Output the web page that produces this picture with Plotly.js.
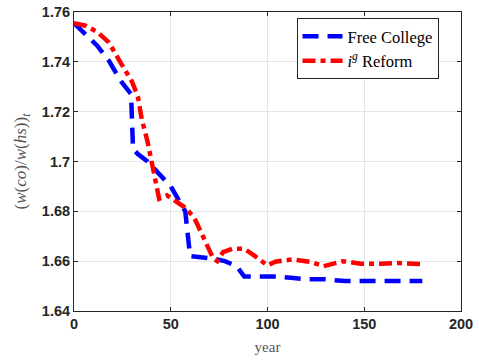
<!DOCTYPE html>
<html>
<head>
<meta charset="utf-8">
<script src="https://cdn.plot.ly/plotly-3.0.1.min.js"></script>
<style>html,body{margin:0;padding:0;background:#fff;}#chart{width:479px;height:362px;}</style>
</head>
<body>
<div id="chart"></div>
<script>
const freeCollegeYears = [0, 6, 12, 18, 24, 28, 29.5, 30.5, 33, 38, 44, 50, 56, 57.5, 60, 66, 72, 78, 84, 88, 95, 105, 112, 120, 130, 140, 150, 160, 170, 180];
const freeCollegeValues = [1.7555, 1.7508, 1.7465, 1.7405, 1.7325, 1.7285, 1.727, 1.705, 1.703, 1.700, 1.695, 1.690, 1.682, 1.680, 1.662, 1.6615, 1.661, 1.660, 1.658, 1.6538, 1.6538, 1.6538, 1.6533, 1.6528, 1.6527, 1.652, 1.652, 1.652, 1.652, 1.652];

const reformYears = [0, 6, 12, 18, 24, 30, 33, 35, 38, 40, 42, 44, 48, 52, 57, 62, 67, 72, 74, 77, 82, 88, 93, 100, 104, 113, 122, 129, 139, 148, 158, 167, 180];
const reformValues = [1.7555, 1.7545, 1.752, 1.7478, 1.7398, 1.732, 1.726, 1.717, 1.708, 1.700, 1.691, 1.685, 1.6864, 1.6845, 1.6817, 1.6777, 1.6697, 1.661, 1.660, 1.6636, 1.665, 1.665, 1.6623, 1.6583, 1.6598, 1.6607, 1.6597, 1.658, 1.660, 1.659, 1.659, 1.6593, 1.6588];

const yTickVals = [1.64, 1.66, 1.68, 1.70, 1.72, 1.74, 1.76];
const yTickText = ['1.64', '1.66', '1.68', '1.7', '1.72', '1.74', '1.76'];
const xTickVals = [0, 50, 100, 150, 200];

const serif = '"Liberation Serif", "DejaVu Serif", serif';
const sans = '"Liberation Sans", Arial, sans-serif';

const traces = [
  {x: freeCollegeYears, y: freeCollegeValues, type: 'scatter', mode: 'lines', name: 'Free College',
   line: {color: '#0000ff', width: 4.5, dash: '16px,9px'}},
  {x: reformYears, y: reformValues, type: 'scatter', mode: 'lines', name: '<i>i</i><sup><i>g</i></sup> Reform',
   line: {color: '#ff0000', width: 4.5, dash: '13px,5px,5px,5px'}}
];

const axisCommon = {
  showline: true, linecolor: '#262626', linewidth: 1, mirror: 'allticks',
  ticks: 'inside', ticklen: 4, tickcolor: '#262626', tickwidth: 1,
  showgrid: true, gridcolor: '#e6e6e6', gridwidth: 1, zeroline: false,
  tickfont: {family: sans, size: 14.5, color: '#262626', weight: 'bold'}
};

const layout = {
  width: 479, height: 362,
  margin: {l: 74, r: 18, t: 12, b: 51},
  paper_bgcolor: '#ffffff', plot_bgcolor: '#ffffff',
  showlegend: true,
  xaxis: Object.assign({}, axisCommon, {
    range: [0, 200], tickvals: xTickVals, ticktext: xTickVals.map(String),
    title: {text: 'year', font: {family: serif, size: 15, color: '#555555'}, standoff: 10}
  }),
  yaxis: Object.assign({}, axisCommon, {
    range: [1.64, 1.76], tickvals: yTickVals, ticktext: yTickText,
    title: {text: '(<i>w</i>(<i>co</i>)/<i>w</i>(<i>hs</i>))<sub><i>t</i></sub>', font: {family: serif, size: 17, color: '#555555'}, standoff: 10}
  }),
  legend: {
    x: 0.575, y: 0.98, xanchor: 'left', yanchor: 'top',
    bgcolor: '#ffffff', bordercolor: '#262626', borderwidth: 1,
    font: {family: serif, size: 16.5, color: '#000000'},
    tracegroupgap: 0, itemwidth: 40
  }
};

Plotly.newPlot('chart', traces, layout, {displayModeBar: false, staticPlot: true});
</script>
</body>
</html>
